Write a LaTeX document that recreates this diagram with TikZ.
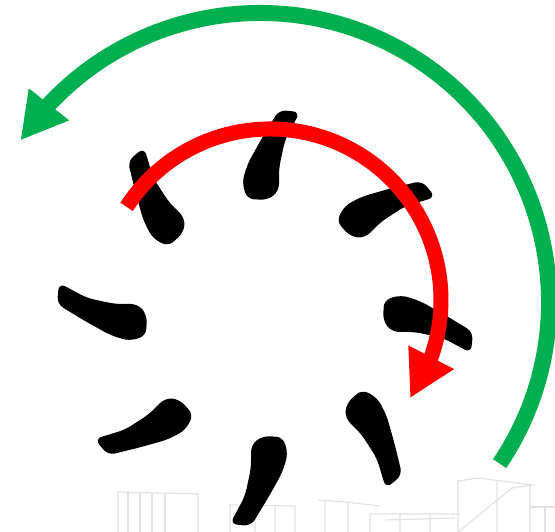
\documentclass[tikz,border=0pt]{standalone}
\usepackage{tikz}
\usetikzlibrary{arrows.meta,bending}
\definecolor{spinred}{HTML}{FF0000}
\definecolor{spingreen}{HTML}{00B050}
\definecolor{cityline}{HTML}{E2E2E2}

\begin{document}
\begin{tikzpicture}[x=1bp,y=1bp,
  blade/.style={fill=black, rounded corners=7bp},
  city/.style={draw=cityline, line width=1.2bp},
  turn/.style={line width=#1, -{Triangle[length=46bp,width=48bp]}}]
\useasboundingbox (0,0) rectangle (555,532);
\coordinate (hub) at (265,214);
% faint city in the back
\draw[city] (118,0) -- (118,40) -- (198,38) -- (198,0);
\foreach \x in {128,140,152,165} \draw[city] (\x,0) -- (\x,39);
\draw[city] (230,0) -- (230,27) -- (295,26) -- (295,0) (255,0) -- (255,27) (275,0) -- (275,26);
\draw[city] (318,32) -- (345,30) -- (380,26) (348,0) -- (348,30) (325,0) -- (325,31);
\draw[city] (370,0) -- (370,18) -- (460,18) (400,0) -- (400,18) (430,0) -- (430,18) (385,12) -- (455,14);
\draw[city] (458,0) -- (458,51) -- (478,54) -- (532,47) -- (512,44) -- cycle (497,0) -- (497,52) (530,0) -- (530,47);
\draw[city] (530,25) -- (555,25) (545,0) -- (545,25);
% eight blades
\foreach \a in {0,45,...,315}{
  \begin{scope}[shift={(hub)},rotate=\a]
    \fill[blade] (14,208) -- (35,206) -- (20,178) -- (14,150) -- (14,127) -- (3,118)
      -- (-18,119) -- (-23,136) -- (-17,155) -- (-3,180) -- cycle;
  \end{scope}
}
% rotation arrows
\draw[turn=15bp, spinred] (270,232) ++(147:171) arc[start angle=147, end angle=-35, radius=171];
\draw[turn=16bp, spingreen] (260,230) ++(-34:289) arc[start angle=-34, end angle=146, radius=289];
\end{tikzpicture}
\end{document}
